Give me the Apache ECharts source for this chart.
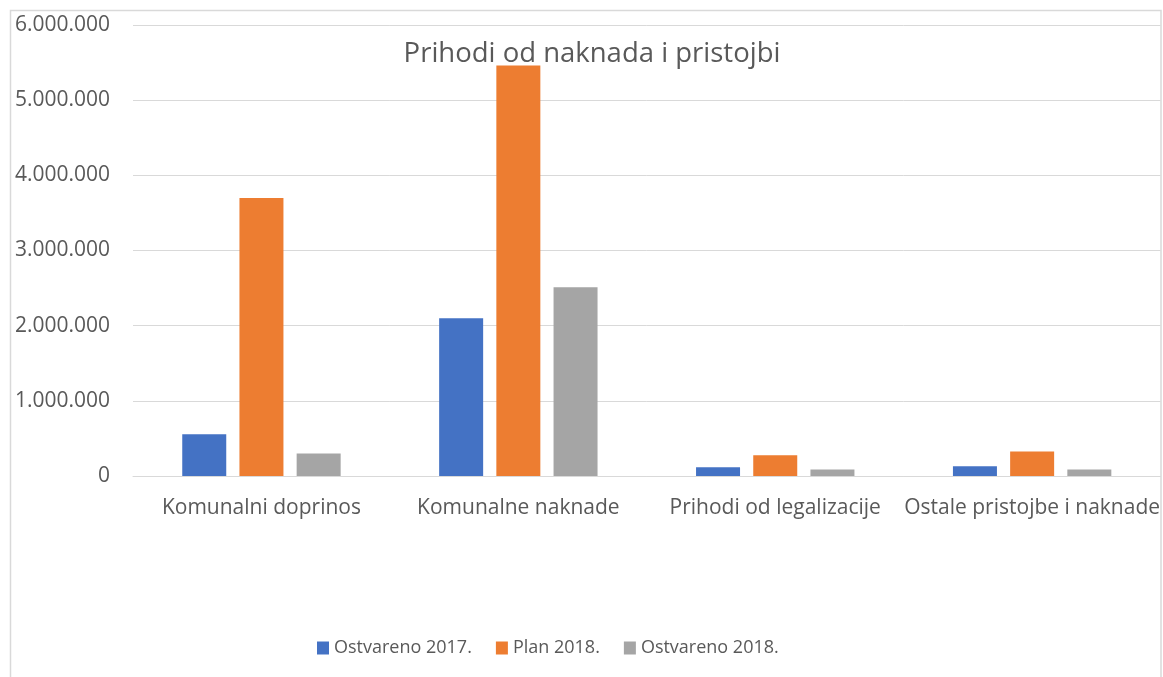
<!DOCTYPE html>
<html>
<head>
<meta charset="utf-8">
<script src="https://cdn.jsdelivr.net/npm/echarts@6/dist/echarts.min.js"></script>
<style>
html,body{margin:0;padding:0;background:#fff;}
#c{width:1163px;height:677px;}
</style>
</head>
<body>
<div id="c"></div>
<script>
const categories = ['Komunalni doprinos', 'Komunalne naknade', 'Prihodi od legalizacije', 'Ostale pristojbe i naknade'];
const seriesNames = ['Ostvareno 2017.', 'Plan 2018.', 'Ostvareno 2018.'];
const ostvareno2017 = [555000, 2100000, 115000, 130000];
const plan2018 = [3700000, 5460000, 275000, 325000];
const ostvareno2018 = [300000, 2510000, 85000, 85000];
const yTicks = [0, 1000000, 2000000, 3000000, 4000000, 5000000, 6000000];

const colors = ['#4472C4', '#ED7D31', '#A5A5A5'];
const font = 'Open Sans';
function fmt(v){ return String(v).replace(/\B(?=(\d{3})+(?!\d))/g, '.'); }

const chart = echarts.init(document.getElementById('c'), null, {renderer:'canvas'});
const dataSets = [ostvareno2017, plan2018, ostvareno2018];
chart.setOption({
  animation: false,
  backgroundColor: '#fff',
  title: {
    text: 'Prihodi od naknada i pristojbi',
    left: 587, textAlign: 'center', top: 35,
    textStyle: {fontFamily: font, fontSize: 27.5, fontWeight: 'normal', color: '#595959'}
  },
  legend: {
    top: 634, left: 312,
    itemWidth: 12, itemHeight: 13, itemGap: 24,
    icon: 'rect',
    textStyle: {fontFamily: font, fontSize: 18, color: '#595959'},
    data: seriesNames
  },
  grid: {left: 133, right: 2, top: 25, bottom: 201, containLabel: false},
  xAxis: {
    type: 'category', data: categories,
    axisLine: {lineStyle: {color: '#d9d9d9', width: 1}},
    axisTick: {show: false},
    axisLabel: {fontFamily: font, fontSize: 21, color: '#595959', margin: 22, interval: 0}
  },
  yAxis: {
    type: 'value', min: yTicks[0], max: yTicks[yTicks.length-1], interval: 1000000,
    axisLine: {show: false}, axisTick: {show: false},
    splitLine: {lineStyle: {color: '#d9d9d9', width: 1}},
    axisLabel: {fontFamily: font, fontSize: 21, color: '#595959', margin: 23, formatter: fmt}
  },
  series: seriesNames.map((n, i) => ({
    name: n, type: 'bar', data: dataSets[i],
    barWidth: 44, barGap: '30%',
    itemStyle: {color: colors[i]}
  })),
  graphic: [{
    type: 'rect', silent: true, z: -1,
    shape: {x: 10.5, y: 10.5, width: 1150.5, height: 700},
    style: {fill: 'none', stroke: '#d9d9d9', lineWidth: 1.5}
  }]
});
</script>
</body>
</html>
